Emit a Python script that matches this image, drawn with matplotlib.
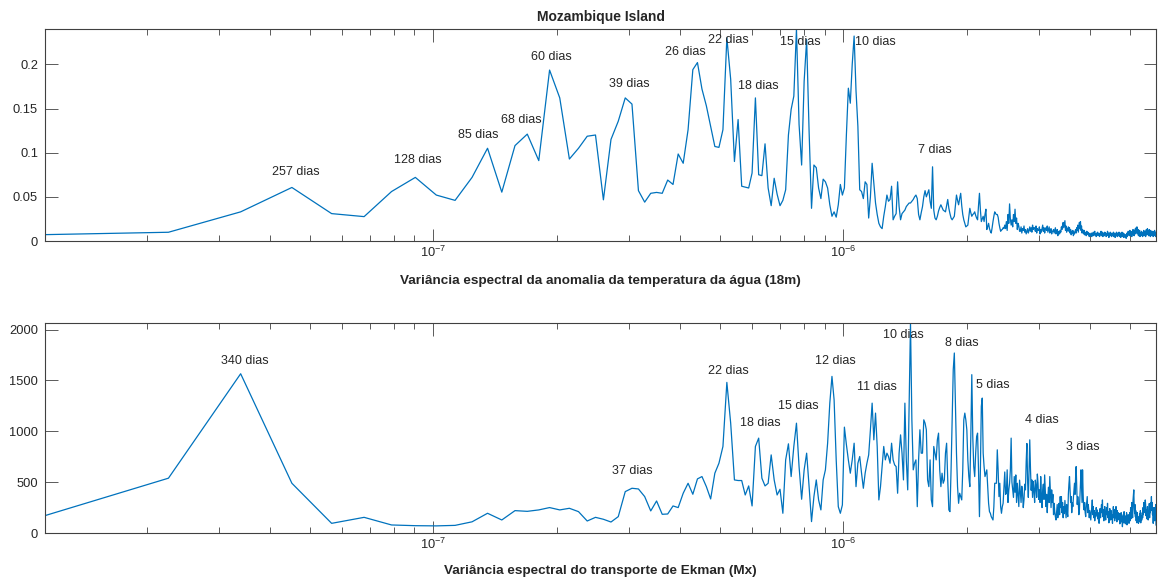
import numpy as np
import matplotlib
matplotlib.use("Agg")
import matplotlib.pyplot as plt
from matplotlib.ticker import LogLocator, NullFormatter, FixedLocator

plt.rcParams['font.family'] = ['Liberation Sans', 'DejaVu Sans']
plt.rcParams['mathtext.default'] = 'regular'

# periodogram of a ~1024 day daily record, frequencies k/(N*86400) Hz
n_days = 1024

# spectral variance, water temperature anomaly at 18 m
temp_var = [
    0.0072, 0.0099, 0.033, 0.0606, 0.031, 0.0276, 0.056, 0.072, 0.052, 0.046,
    0.072, 0.105, 0.0553, 0.108, 0.121, 0.091, 0.1935, 0.162, 0.0928, 0.105,
    0.1186, 0.120, 0.0466, 0.115, 0.1356, 0.162, 0.155, 0.057, 0.044, 0.054,
    0.055, 0.054, 0.069, 0.064, 0.0985, 0.088, 0.126, 0.194, 0.202, 0.172,
    0.153, 0.130, 0.107, 0.106, 0.126, 0.230, 0.183, 0.090, 0.1375, 0.062,
    0.061, 0.060, 0.077, 0.162, 0.075, 0.074, 0.110, 0.060, 0.040, 0.071,
    0.053, 0.040, 0.046, 0.058, 0.120, 0.149, 0.164, 0.240, 0.132, 0.086,
    0.181, 0.228, 0.124, 0.037, 0.086, 0.083, 0.060, 0.048, 0.070, 0.067,
    0.060, 0.041, 0.028, 0.033, 0.027, 0.041, 0.064, 0.052, 0.060, 0.120,
    0.173, 0.156, 0.200, 0.232, 0.170, 0.130, 0.058, 0.056, 0.048, 0.067,
    0.064, 0.026, 0.050, 0.088, 0.066, 0.043, 0.030, 0.020, 0.016, 0.014,
    0.028, 0.039, 0.052, 0.045, 0.047, 0.062, 0.024, 0.028, 0.031, 0.067,
    0.039, 0.024, 0.031, 0.033, 0.035, 0.039, 0.041, 0.043, 0.043, 0.045,
    0.047, 0.050, 0.052, 0.048, 0.030, 0.024, 0.032, 0.039, 0.050, 0.057,
    0.050, 0.054, 0.058, 0.045, 0.037, 0.084, 0.035, 0.026, 0.024, 0.028,
    0.034, 0.038, 0.041, 0.038, 0.035, 0.034, 0.033, 0.040, 0.047, 0.037,
    0.031, 0.026, 0.024, 0.026, 0.028, 0.040, 0.052, 0.046, 0.041, 0.048,
    0.054, 0.040, 0.030, 0.024, 0.020, 0.016, 0.017, 0.018, 0.028, 0.037,
    0.032, 0.028, 0.030, 0.031, 0.033, 0.029, 0.026, 0.024, 0.040, 0.054,
    0.035, 0.022, 0.025, 0.028, 0.022, 0.030, 0.036, 0.013, 0.016, 0.020,
    0.014, 0.011, 0.009, 0.015, 0.022, 0.028, 0.033, 0.031, 0.030, 0.030,
    0.027, 0.020, 0.015, 0.011, 0.0125, 0.013, 0.015, 0.014,
    0.018, 0.014, 0.022, 0.012, 0.030, 0.020, 0.042, 0.025, 0.018, 0.024,
    0.016, 0.030, 0.022, 0.036, 0.020, 0.026, 0.013, 0.020, 0.017, 0.011,
    0.011, 0.016, 0.009, 0.014, 0.012, 0.017, 0.010, 0.013, 0.008, 0.011,
    0.014, 0.009, 0.012, 0.016, 0.011, 0.015, 0.010, 0.018, 0.013, 0.015,
    0.015, 0.011, 0.017, 0.009, 0.014, 0.012, 0.012, 0.016, 0.008, 0.013,
    0.010, 0.014, 0.018, 0.011, 0.015, 0.009, 0.013, 0.015, 0.012, 0.017,
    0.010, 0.013, 0.016, 0.009, 0.012, 0.014, 0.008, 0.011, 0.011, 0.013,
    0.009, 0.012, 0.015, 0.008, 0.010, 0.013, 0.006, 0.009, 0.011, 0.008,
    0.012, 0.010, 0.016, 0.013, 0.018, 0.021, 0.015, 0.019, 0.023, 0.012,
    0.017, 0.010, 0.014, 0.012, 0.016, 0.011, 0.015, 0.009, 0.013, 0.007,
    0.011, 0.009, 0.012, 0.006, 0.010, 0.008, 0.011, 0.013, 0.009, 0.015,
    0.012, 0.018, 0.010, 0.016, 0.021, 0.014, 0.022, 0.012, 0.017, 0.009,
    0.013, 0.010, 0.008, 0.012, 0.007, 0.010, 0.009, 0.006, 0.011, 0.008,
    0.010, 0.007, 0.009, 0.005, 0.008, 0.006, 0.006, 0.009, 0.005, 0.008,
    0.007, 0.010, 0.006, 0.009, 0.011, 0.007, 0.008, 0.005, 0.009, 0.007,
    0.010, 0.006, 0.008, 0.008, 0.005, 0.009, 0.007, 0.011, 0.006, 0.008,
    0.010, 0.005, 0.009, 0.007, 0.006, 0.010, 0.008, 0.009, 0.005, 0.008,
    0.007, 0.011, 0.006, 0.009, 0.004, 0.008, 0.007, 0.010, 0.006, 0.009,
    0.005, 0.008, 0.008, 0.006, 0.010, 0.005, 0.009, 0.007, 0.004, 0.008,
    0.006, 0.010, 0.007, 0.005, 0.009, 0.006, 0.008, 0.010, 0.005, 0.007,
    0.009, 0.004, 0.008, 0.006, 0.010, 0.005, 0.007, 0.009, 0.004, 0.006,
    0.008, 0.005, 0.004, 0.007, 0.003, 0.006, 0.009, 0.005, 0.008, 0.011,
    0.007, 0.010, 0.006, 0.012, 0.008, 0.011, 0.006, 0.009, 0.005, 0.011,
    0.008, 0.013, 0.007, 0.010, 0.006, 0.012, 0.009, 0.014, 0.008, 0.015,
    0.010, 0.016, 0.011, 0.008, 0.013, 0.006, 0.010, 0.007, 0.012, 0.005,
    0.009, 0.008, 0.006, 0.011, 0.007, 0.008, 0.005, 0.010, 0.007, 0.012,
    0.006, 0.009, 0.008, 0.011, 0.005, 0.010, 0.013, 0.007, 0.012, 0.014,
    0.008, 0.011, 0.006, 0.010, 0.013, 0.007, 0.009, 0.005, 0.012, 0.008,
    0.010, 0.006, 0.009, 0.008, 0.011, 0.005, 0.010, 0.007, 0.009, 0.012,
    0.006, 0.010, 0.005, 0.008,
]

# spectral variance, Ekman transport (Mx)
ekman_var = [
    171, 539, 1566, 489, 95, 154, 79, 72, 70, 75,
    110, 194, 128, 220, 213, 227, 250, 227, 243, 210,
    118, 154, 135, 108, 161, 407, 440, 433, 358, 217,
    315, 184, 187, 266, 250, 391, 489, 381, 532, 555,
    456, 335, 588, 686, 851, 1481, 1080, 522, 516, 516,
    374, 463, 266, 851, 933, 539, 463, 489, 768, 522,
    374, 430, 194, 719, 877, 555, 851, 1080, 653, 332,
    621, 785, 456, 112, 358, 522, 325, 227, 522, 621,
    883, 1277, 1540, 1310, 719, 259, 194, 276, 1041, 870,
    719, 588, 719, 883, 456, 686, 752, 588, 440, 588,
    686, 768, 1015, 1277, 916, 1179, 851, 325, 456, 653,
    851, 719, 785, 752, 686, 883, 719, 670, 653, 391,
    785, 965, 785, 522, 1277, 719, 424, 1277, 2065, 1113,
    621, 686, 719, 259, 719, 1015, 785, 785, 1113, 1080,
    1015, 522, 456, 719, 325, 259, 851, 785, 719, 916,
    982, 621, 456, 588, 489, 522, 785, 883, 522, 227,
    210, 621, 1113, 1606, 1770, 1277, 785, 456, 292, 391,
    358, 325, 621, 1113, 1179, 1113, 1015, 719, 555, 456,
    949, 1557, 949, 653, 555, 785, 949, 982, 621, 161,
    621, 1245, 1327, 785, 653, 555, 588, 621, 456, 292,
    210, 194, 161, 145, 128, 259, 489, 489, 489, 818,
    621, 358, 489, 259, 194,
    259, 292, 450, 600, 380, 391, 621, 300, 420, 489,
    620, 933, 500, 424, 350, 555, 400, 571, 300, 489,
    380, 260, 520, 407, 300, 460, 391, 250, 330, 480,
    424, 700, 880, 500, 350, 600, 916, 640, 420, 522,
    350, 506, 420, 300, 520, 456, 350, 580, 489, 330,
    424, 300, 555, 380, 250, 424, 480, 330, 571, 420,
    260, 380, 200, 358, 450, 300, 555, 400, 250, 424,
    300, 380, 180, 292, 210, 160, 128, 200, 280, 150,
    230, 292, 180, 358, 250, 358, 200, 300, 150, 260,
    190, 320, 227, 150, 280, 200, 161, 380, 480, 555,
    420, 300, 358, 200, 300, 260, 350, 420, 489, 380,
    550, 653, 450, 280, 358, 300, 180, 227, 350, 480,
    621, 450, 300, 621, 400, 250, 227, 300, 200, 161,
    250, 300, 358, 200, 280, 227, 150, 220, 170, 128,
    200, 250, 325, 180, 260, 150, 220, 120, 200, 161,
    250, 180, 227, 140, 200, 110, 95, 180, 240, 150,
    220, 280, 200, 325, 160, 230, 120, 200, 260, 170,
    128, 200, 250, 180, 292, 150, 210, 100, 180, 240,
    160, 128, 220, 140, 180, 95, 200, 260, 150, 230,
    120, 190, 150, 260, 180, 110, 220, 140, 200, 160,
    128, 190, 90, 170, 130, 200, 110, 160, 62, 140,
    180, 100, 210, 130, 170, 90, 161, 120, 200, 80,
    150, 110, 180, 130, 95, 160, 200, 120, 250, 140,
    180, 300, 227, 150, 320, 380, 424, 250, 190, 280,
    161, 220, 120, 180, 100, 200, 130, 160, 95, 150,
    110, 190, 140, 220, 100, 170, 130, 128, 200, 150,
    250, 180, 300, 210, 260, 200, 325, 280, 170, 230,
    140, 200, 260, 160, 128, 220, 180, 290, 150, 250,
    200, 300, 240, 358, 220, 300, 180, 250, 95, 200,
    140, 250, 120, 200, 160, 280, 79,
]

# peak annotations (text, frequency in Hz, height)
temp_labels = ["257 dias", "128 dias", "85 dias", "68 dias", "60 dias", "39 dias",
               "26 dias", "22 dias", "18 dias", "15 dias", "10 dias", "7 dias"]
temp_label_f = [4.62e-8, 9.19e-8, 1.287e-7, 1.637e-7, 1.937e-7, 3.0e-7,
                4.126e-7, 5.25e-7, 6.21e-7, 7.86e-7, 1.196e-6, 1.674e-6]
temp_label_v = [0.078, 0.092, 0.120, 0.1375, 0.208, 0.178,
                0.214, 0.227, 0.175, 0.225, 0.225, 0.103]

ekman_labels = ["340 dias", "37 dias", "22 dias", "18 dias", "15 dias", "12 dias",
                "11 dias", "10 dias", "8 dias", "5 dias", "4 dias", "3 dias"]
ekman_label_f = [3.47e-8, 3.066e-7, 5.25e-7, 6.28e-7, 7.77e-7, 9.56e-7,
                 1.21e-6, 1.40e-6, 1.949e-6, 2.317e-6, 3.05e-6, 3.837e-6]
ekman_label_v = [1695, 611, 1596, 1084, 1251, 1695,
                 1438, 1951, 1872, 1458, 1113, 847]

df = 1.0 / (n_days * 86400.0)
temp_freq = df * np.arange(1, len(temp_var) + 1)
ekman_freq = df * np.arange(1, len(ekman_var) + 1)

line_color = '#0072BD'
axis_color = '#404040'

fig = plt.figure(figsize=(11.6, 5.83), dpi=100)
ax1 = fig.add_axes([45 / 1160, 1 - 241 / 583, 1111 / 1160, 212 / 583])
ax2 = fig.add_axes([45 / 1160, 1 - 533 / 583, 1111 / 1160, 210 / 583])


def style_axis(ax, freq, vals, yticks, yticklabels, xlabel, label_y):
    ax.plot(freq, vals, color=line_color, lw=0.9)
    ax.set_xscale('log')
    ax.set_xlim(freq[0], freq[-1])
    ax.set_ylim(0, max(vals))
    ax.xaxis.set_major_locator(FixedLocator([1e-7, 1e-6]))
    ax.xaxis.set_minor_locator(LogLocator(base=10, subs=np.arange(2, 10), numticks=20))
    ax.xaxis.set_minor_formatter(NullFormatter())
    ax.set_yticks(yticks)
    ax.set_yticklabels(yticklabels)
    ax.tick_params(which='both', direction='in', top=True, right=True,
                   color=axis_color, labelcolor='#262626', labelsize=9.3, width=0.6)
    ax.tick_params(which='major', length=9)
    ax.tick_params(which='minor', length=4.5)
    ax.tick_params(axis='y', pad=5)
    ax.tick_params(axis='x', pad=3)
    for s in ax.spines.values():
        s.set_color(axis_color)
        s.set_linewidth(0.8)
    ax.set_xlabel(xlabel, fontsize=9.7, fontweight='bold', color='#262626', va='center')
    ax.xaxis.set_label_coords(0.5, label_y)


style_axis(ax1, temp_freq, temp_var, [0, 0.05, 0.1, 0.15, 0.2],
           ['0', '0.05', '0.1', '0.15', '0.2'],
           'Variância espectral da anomalia da temperatura da água (18m)', -40 / 212)
style_axis(ax2, ekman_freq, ekman_var, [0, 500, 1000, 1500, 2000],
           ['0', '500', '1000', '1500', '2000'],
           'Variância espectral do transporte de Ekman (Mx)', -38 / 210)

for lab, f, v in zip(temp_labels, temp_label_f, temp_label_v):
    ax1.text(f, v, lab, ha='center', va='center', fontsize=9, color='#262626')
for lab, f, v in zip(ekman_labels, ekman_label_f, ekman_label_v):
    ax2.text(f, v, lab, ha='center', va='center', fontsize=9, color='#262626')

ax1.set_title('Mozambique Island', fontsize=10, fontweight='bold', color='#262626', pad=6)

fig.savefig('out.png', dpi=100)
